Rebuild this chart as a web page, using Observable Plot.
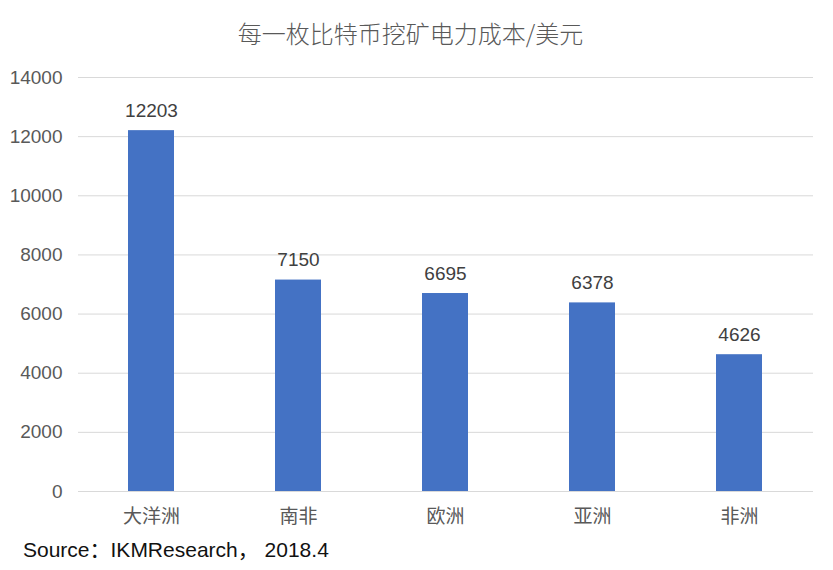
<!DOCTYPE html>
<html>
<head>
<meta charset="utf-8">
<script src="https://cdn.jsdelivr.net/npm/d3@7"></script>
<script src="https://cdn.jsdelivr.net/npm/@observablehq/plot@0.6"></script>
<style>
  body { margin: 0; background: #fff; width: 833px; height: 570px; overflow: hidden;
         font-family: "Liberation Sans", Arial, "Noto Sans CJK SC", sans-serif; }
  #title { height: 60px; line-height: 66px; text-align: center; font-size: 24px; color: #595959;
           padding-right: 12px; font-family: "Noto Sans CJK SC", sans-serif; font-weight: 300; }
  #chart svg { display: block; }
  #caption { position: absolute; left: 23px; top: 533px; font-size: 21px; color: #111; white-space: pre; }
</style>
</head>
<body>
<div id="title">每一枚比特币挖矿电力成本/美元</div>
<div id="chart"></div>
<div id="caption">Source：IKMResearch， 2018.4</div>
<script>
const categories = ["大洋洲", "南非", "欧洲", "亚洲", "非洲"];
const values = [12203, 7150, 6695, 6378, 4626];
const yTicks = [0, 2000, 4000, 6000, 8000, 10000, 12000, 14000];

const data = categories.map((c, i) => ({ region: c, cost: values[i] }));

const chart = Plot.plot({
  width: 833,
  height: 480,
  marginLeft: 78,
  marginRight: 20,
  marginTop: 17,
  marginBottom: 49,
  style: { fontFamily: '"Liberation Sans", Arial, "Noto Sans CJK SC", sans-serif', fontSize: "19px", color: "#595959", background: "#fff" },
  x: { domain: categories, paddingInner: 0.687, paddingOuter: 0.3435, align: 0.5, label: null },
  y: { domain: [0, 14000], ticks: yTicks, label: null },
  marks: [
    Plot.gridY(yTicks, { stroke: "#d9d9d9", strokeOpacity: 1 }),
    Plot.barY(data, { x: "region", y: "cost", fill: "#4472C4" }),
    Plot.ruleY([0], { stroke: "#d9d9d9" }),
    Plot.text(data, { x: "region", y: "cost", text: d => String(d.cost), dy: -20, fontSize: 19, fill: "#404040" }),
    Plot.axisY(yTicks, { tickSize: 0, tickPadding: 16, tickFormat: d3.format("d"), fontSize: 19, fill: "#595959", label: null }),
    Plot.axisX({ tickSize: 0, tickPadding: 18, fontSize: 19, fill: "#595959", label: null, fontFamily: '"Noto Sans CJK SC", sans-serif' })
  ]
});
document.getElementById("chart").appendChild(chart);
</script>
</body>
</html>
